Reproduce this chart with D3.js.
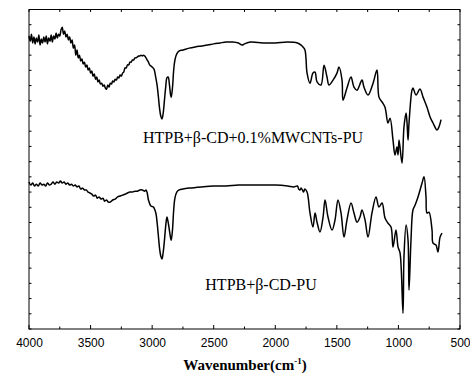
<!DOCTYPE html>
<html>
<head>
<meta charset="utf-8">
<script src="https://cdn.jsdelivr.net/npm/d3@7"></script>
<style>
  body { margin: 0; background: #fff; }
  .tick text { font-family: Arial, "Liberation Sans", sans-serif; font-size: 12px; fill: #000; }
</style>
</head>
<body>
<div id="chart"></div>
<script>

var xTicks = [4000, 3500, 3000, 2500, 2000, 1500, 1000, 500];

var labels = ["HTPB+β-CD+0.1%MWCNTs-PU", "HTPB+β-CD-PU"];

// top trace: [wavenumber, transmittance (a.u.)]
var mwcntsPU = [
  [4000, 96.3], [3990, 94.6], [3980, 96.9], [3970, 94.0], [3960, 96.0], [3950, 93.7], [3940, 95.6],
  [3930, 94.3], [3920, 96.6], [3910, 93.3], [3900, 95.3], [3890, 94.0], [3880, 96.0], [3870, 94.3],
  [3860, 96.3], [3850, 93.7], [3840, 95.6], [3830, 94.6], [3820, 96.6], [3810, 94.3], [3800, 96.3],
  [3790, 95.3], [3780, 97.3], [3770, 95.6], [3760, 96.9], [3750, 96.3], [3740, 98.3], [3730, 99.2],
  [3720, 96.9], [3710, 97.9], [3700, 96.0], [3690, 96.9], [3680, 95.0], [3670, 96.0], [3660, 94.0],
  [3650, 95.0], [3640, 92.3], [3630, 93.3], [3620, 90.0], [3610, 91.7], [3600, 89.1], [3590, 90.0],
  [3580, 88.1], [3570, 88.7], [3560, 87.1], [3550, 87.7], [3540, 86.1], [3530, 86.8], [3520, 85.1],
  [3510, 85.8], [3500, 84.1], [3490, 84.8], [3480, 83.1], [3470, 83.8], [3460, 82.1], [3450, 82.8],
  [3440, 81.2], [3430, 81.8], [3420, 80.5], [3410, 80.8], [3400, 79.8], [3390, 80.2], [3380, 79.2],
  [3370, 78.8], [3360, 80.2], [3350, 79.5], [3340, 80.8], [3330, 80.5], [3320, 81.5], [3310, 81.2],
  [3300, 82.1], [3290, 81.8], [3280, 82.8], [3270, 82.5], [3260, 83.5], [3250, 83.1], [3240, 84.1],
  [3230, 84.5], [3220, 85.8], [3210, 85.8], [3200, 86.8], [3190, 86.8], [3180, 87.7], [3170, 87.7],
  [3160, 88.4], [3150, 88.4], [3140, 89.1], [3130, 89.1], [3120, 89.4], [3110, 89.7], [3100, 89.7],
  [3090, 90.0], [3080, 89.7], [3070, 90.0], [3060, 89.7], [3050, 89.1], [3040, 88.4], [3030, 87.7],
  [3020, 86.8], [3000, 86.1], [2985, 85.4], [2970, 82.5], [2960, 80.2], [2950, 76.6], [2940, 72.6],
  [2930, 70.0], [2920, 69.0], [2910, 71.0], [2900, 75.2], [2890, 79.5], [2880, 82.5], [2870, 82.8],
  [2860, 80.5], [2850, 76.9], [2845, 76.2], [2835, 79.2], [2825, 85.1], [2815, 88.4], [2800, 90.4],
  [2780, 91.4], [2750, 91.7], [2700, 92.3], [2650, 92.7], [2600, 93.0], [2550, 93.3], [2500, 93.7],
  [2450, 94.0], [2400, 94.3], [2350, 94.3], [2300, 94.0], [2270, 93.3], [2250, 93.7], [2200, 94.3],
  [2100, 94.0], [2000, 94.0], [1900, 94.3], [1820, 94.0], [1790, 93.3], [1775, 92.7], [1759, 91.7],
  [1751, 89.1], [1742, 84.1], [1718, 80.8], [1694, 84.1], [1677, 84.4], [1661, 81.2], [1629, 80.2],
  [1604, 86.7], [1580, 82.8], [1564, 80.2], [1531, 81.8], [1499, 84.1], [1483, 86.1], [1458, 81.8],
  [1450, 75.2], [1418, 79.2], [1385, 82.8], [1361, 79.5], [1336, 78.5], [1296, 81.8], [1280, 79.5],
  [1247, 76.9], [1206, 80.8], [1174, 85.1], [1158, 76.2], [1133, 74.6], [1109, 72.9], [1085, 67.7],
  [1068, 69.3], [1044, 62.1], [1028, 57.2], [1012, 59.8], [1003, 57.2], [995, 62.1], [971, 54.5],
  [955, 66.4], [938, 71.0], [930, 67.7], [922, 62.1], [914, 67.7], [890, 78.5], [882, 79.2],
  [857, 76.9], [825, 78.9], [800, 76.2], [768, 72.9], [743, 69.7], [719, 67.7], [687, 65.4],
  [671, 66.4], [654, 68.8]
];

// bottom trace
var cdPU = [
  [4000, 48.3], [3985, 47.3], [3970, 48.0], [3955, 47.0], [3940, 47.6], [3925, 47.0], [3910, 48.0],
  [3895, 47.3], [3880, 47.6], [3865, 47.0], [3850, 48.0], [3835, 47.3], [3820, 47.6], [3805, 48.3],
  [3790, 47.6], [3775, 48.3], [3760, 48.0], [3745, 48.6], [3730, 48.0], [3715, 48.3], [3700, 47.6],
  [3685, 48.0], [3670, 47.3], [3655, 47.6], [3640, 47.0], [3625, 47.3], [3610, 46.7], [3595, 47.0],
  [3580, 46.0], [3565, 46.3], [3550, 45.7], [3535, 45.7], [3520, 45.0], [3505, 44.7], [3490, 44.3],
  [3475, 43.7], [3460, 44.0], [3445, 43.0], [3430, 43.4], [3415, 42.7], [3400, 43.0], [3385, 42.0],
  [3370, 42.4], [3355, 41.7], [3340, 41.7], [3320, 42.4], [3300, 42.7], [3280, 43.4], [3260, 43.7],
  [3240, 44.0], [3220, 44.3], [3200, 44.7], [3180, 45.0], [3160, 45.0], [3140, 45.3], [3120, 45.3],
  [3100, 45.7], [3080, 45.7], [3060, 45.3], [3050, 45.7], [3040, 44.7], [3030, 42.4], [3010, 40.4],
  [2990, 40.1], [2970, 38.1], [2960, 35.1], [2950, 30.9], [2940, 26.6], [2930, 24.0], [2920, 23.0],
  [2910, 25.3], [2900, 29.2], [2890, 33.8], [2880, 36.8], [2870, 35.1], [2860, 32.5], [2850, 29.9],
  [2845, 29.2], [2835, 32.5], [2825, 39.1], [2815, 43.0], [2800, 45.0], [2780, 45.7], [2750, 46.0],
  [2700, 46.3], [2600, 46.7], [2500, 47.0], [2400, 47.0], [2300, 47.3], [2200, 47.3], [2100, 47.3],
  [2000, 47.3], [1900, 47.0], [1850, 46.7], [1820, 47.0], [1810, 46.0], [1799, 45.7], [1790, 46.3],
  [1780, 45.7], [1770, 45.0], [1760, 46.0], [1742, 45.0], [1718, 38.1], [1694, 33.5], [1677, 38.1],
  [1661, 35.1], [1637, 31.9], [1612, 36.8], [1596, 42.4], [1572, 36.8], [1539, 32.5], [1515, 35.8],
  [1491, 42.4], [1466, 38.1], [1442, 30.2], [1418, 35.8], [1385, 41.4], [1361, 38.1], [1336, 35.1],
  [1312, 36.8], [1296, 39.1], [1271, 35.8], [1247, 30.2], [1215, 38.1], [1182, 43.4], [1158, 40.1],
  [1133, 41.4], [1109, 36.5], [1085, 34.8], [1060, 33.5], [1044, 26.9], [1020, 32.5], [1003, 26.9],
  [987, 25.0], [963, 5.2], [955, 23.6], [938, 34.2], [922, 29.2], [914, 12.8], [898, 29.2],
  [882, 39.1], [865, 40.7], [841, 43.4], [808, 48.0], [792, 50.0], [776, 43.4], [768, 38.1],
  [752, 38.4], [727, 32.5], [719, 28.2], [695, 27.6], [679, 25.3], [662, 30.2], [646, 31.5]
];

var width = 470, height = 376;
var margin = {left: 29, right: 10, top: 9.5, bottom: 47};

var svg = d3.select("#chart")
  .append("svg")
  .attr("width", width)
  .attr("height", height);

var x = d3.scaleLinear()
  .domain([4000, 500])
  .range([margin.left, width - margin.right]);

var y = d3.scaleLinear()
  .domain([0, 105])
  .range([height - margin.bottom, margin.top]);

var minor = d3.range(500, 4001, 250);
var yTicks = d3.range(0, 106, 5);

// bottom axis labels
svg.append("g")
  .attr("transform", "translate(0," + y(0) + ")")
  .call(d3.axisBottom(x).tickValues(xTicks).tickFormat(d3.format("d")).tickSize(0).tickPadding(9))
  .call(function(g) { g.select(".domain").remove(); });

var frame = svg.append("g").attr("stroke", "#000").attr("stroke-width", 1);

frame.selectAll(".tb")
  .data(minor)
  .enter()
  .append("line")
  .attr("x1", function(d) { return x(d); })
  .attr("x2", function(d) { return x(d); })
  .attr("y1", y(0))
  .attr("y2", function(d) { return y(0) - (d % 500 == 0 ? 4 : 2.5); });

frame.selectAll(".tt")
  .data(minor)
  .enter()
  .append("line")
  .attr("x1", function(d) { return x(d); })
  .attr("x2", function(d) { return x(d); })
  .attr("y1", y(105))
  .attr("y2", y(105) + 2.5);

frame.selectAll(".tl")
  .data(yTicks)
  .enter()
  .append("line")
  .attr("x1", x(4000))
  .attr("x2", x(4000) + 2.5)
  .attr("y1", function(d) { return y(d); })
  .attr("y2", function(d) { return y(d); });

frame.selectAll(".tr")
  .data(yTicks)
  .enter()
  .append("line")
  .attr("x1", x(500))
  .attr("x2", x(500) - 2.5)
  .attr("y1", function(d) { return y(d); })
  .attr("y2", function(d) { return y(d); });

frame.append("rect")
  .attr("x", x(4000))
  .attr("y", y(105))
  .attr("width", x(500) - x(4000))
  .attr("height", y(0) - y(105))
  .attr("fill", "none");

var line = d3.line()
  .x(function(d) { return x(d[0]); })
  .y(function(d) { return y(d[1]); })
  .curve(d3.curveCatmullRom.alpha(0.5));

svg.selectAll(".spec")
  .data([mwcntsPU, cdPU])
  .enter()
  .append("path")
  .attr("d", line)
  .attr("fill", "none")
  .attr("stroke", "#000")
  .attr("stroke-width", 1.5)
  .attr("stroke-linejoin", "round");

svg.append("text")
  .attr("x", 253)
  .attr("y", 143)
  .attr("text-anchor", "middle")
  .style("font-family", "'Times New Roman', 'Liberation Serif', serif")
  .style("font-size", "16px")
  .text(labels[0]);

svg.append("text")
  .attr("x", 261)
  .attr("y", 290)
  .attr("text-anchor", "middle")
  .style("font-family", "'Times New Roman', 'Liberation Serif', serif")
  .style("font-size", "16px")
  .text(labels[1]);

var title = svg.append("text")
  .attr("x", 245)
  .attr("y", 370)
  .attr("text-anchor", "middle")
  .style("font-family", "'Times New Roman', 'Liberation Serif', serif")
  .style("font-size", "15px")
  .style("font-weight", "bold");
title.append("tspan").text("Wavenumber(cm");
title.append("tspan").attr("dy", -6).style("font-size", "9px").text("-1");
title.append("tspan").attr("dy", 6).text(")");

</script>
</body>
</html>
